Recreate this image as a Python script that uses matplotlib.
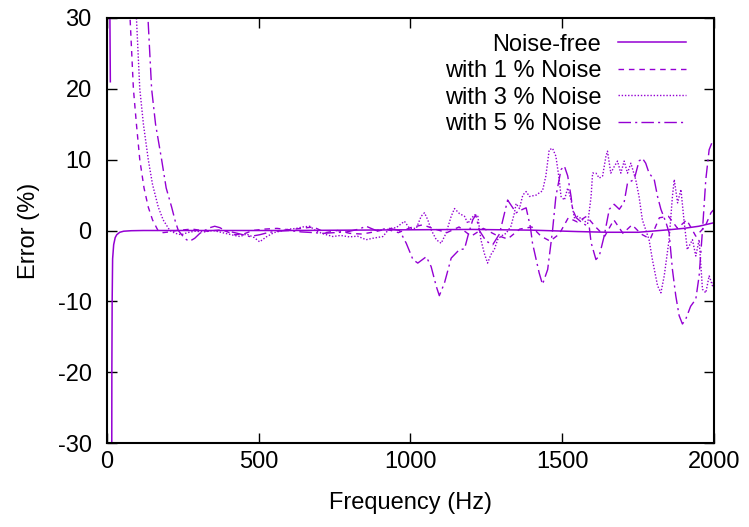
import numpy as np
import matplotlib
matplotlib.use('Agg')
from matplotlib import pyplot as plt

plt.rcParams['font.family'] = ['Liberation Sans', 'DejaVu Sans']
plt.rcParams['axes.unicode_minus'] = False

# Noise-free (NaN marks the jump at the pole near 0 Hz)
f_clean = [8, 11, 12, 15.5, 16, 17, 18.5, 22, 27, 32, 42, 55, 80, 120, 200, 400, 600, 800,
           1000, 1200, 1400, 1550, 1650, 1750, 1850, 1900, 1950, 2000]
e_clean = [40, 21, np.nan, -40, -20, -10, -4, -2, -1, -0.6, -0.25, -0.1, -0.03, 0, 0, 0, 0, 0.05,
           0.1, 0.15, 0.05, -0.15, -0.25, -0.25, 0.1, 0.3, 0.6, 1.1]

# with 1 % noise
f_n1 = [60, 76, 87, 97, 108, 122, 136, 150, 168, 185, 205, 230, 280, 330, 380, 420, 450, 480,
        520, 560, 600, 640, 680, 720, 760, 800, 840, 880, 920, 960, 1000, 1040, 1080, 1120,
        1160, 1200, 1240, 1280, 1320, 1360, 1400, 1430, 1460, 1490, 1520, 1550, 1580, 1610,
        1640, 1670, 1700, 1730, 1760, 1790, 1820, 1850, 1880, 1910, 1940, 1970, 1990, 2000]
e_n1 = [45, 30, 20, 15, 10, 6, 3.3, 1.5, 0, -0.3, -0.2, 0, 0.2, -0.1, 0.1, -0.6, -0.5, 0,
        0.2, 0.3, 0.1, 0.3, 0.5, -0.3, 0.0, -0.4, -0.5, -0.2, 0.2, -0.3, 0.4, 0.8, 0.2, -0.3,
        0.5, -0.8, 0.3, -0.6, -1.2, 0.2, 0.5, -0.8, -1.5, -0.5, 1.8, 1.2, 2.0, 0.5,
        -0.8, 1.5, -0.4, 0.8, -0.5, -1.2, 1.8, 2.0, 0.3, 1.5, -0.8, 0.5, 2.5, 3.0]

# with 3 % noise
f_n3 = [80, 97, 108, 120, 136, 150, 169, 185, 207, 225, 245, 265, 290, 320, 350, 390, 420, 438,
        460, 485, 503, 525, 550, 580, 602, 624, 645, 668, 690, 715, 744, 770, 799, 825, 854,
        875, 909, 931, 953, 980, 997, 1019, 1035, 1046, 1057, 1068, 1085, 1101, 1117, 1134,
        1145, 1161, 1178, 1189, 1200, 1211, 1222, 1232, 1243, 1254, 1265, 1276, 1287, 1298,
        1315, 1331, 1342, 1348, 1359, 1370, 1381, 1392, 1414, 1424, 1435, 1446, 1457, 1468,
        1479, 1490, 1496, 1507, 1518, 1529, 1540, 1551, 1568, 1584, 1595, 1600, 1611, 1622,
        1633, 1644, 1649, 1660, 1671, 1682, 1693, 1704, 1715, 1726, 1742, 1753, 1764, 1775,
        1786, 1797, 1814, 1825, 1836, 1852, 1863, 1869, 1880, 1891, 1901, 1912, 1929, 1940,
        1951, 1962, 1973, 1984, 1995, 2000]
e_n3 = [45, 30, 20, 15, 10, 6.5, 3.3, 1.5, 0, -0.4, -0.6, -0.3, -0.1, -0.2, 0, -0.4, -0.7, -0.85,
        -0.5, -1.0, -1.6, -0.9, -0.3, 0, 0.2, 0.3, 0.5, 0.6, -0.1, -0.5, -0.85, -0.7, -0.9, -0.8, -1.3,
        -1.1, -0.85, 0.3, 0.4, 1.3, 0.3, 0.3, 2.0, 2.5, 1.5, 0.1, -1.3, -1.8, -0.4, 2.0,
        3.1, 2.4, 2.0, 1.0, 1.7, 2.2, 2.0, -1.3, -3.2, -4.6, -3.4, -2.7, -1.3, -0.8,
        -0.4, 0.6, 2.4, 3.8, 3.1, 5.0, 5.5, 4.8, 5.0, 5.3, 5.6, 7.7, 11.4, 11.6,
        10.5, 7.2, 4.8, 4.3, 6.0, 4.3, 1.8, 2.0, 1.5, 1.0, 4.8, 8.1, 8.1, 7.4,
        7.7, 10.5, 11.2, 8.1, 9.0, 9.8, 8.1, 9.8, 8.1, 9.5, 7.2, 4.8, 1.5, 0.1,
        -1.3, -4.1, -7.8, -8.8, -6.4, -1.3, 4.8, 7.2, 3.9, 5.8, 1.5, -2.7, -1.3, -3.6,
        -1.3, -8.3, -8.8, -6.4, -7.8, -7.0]

# with 5 % noise
f_n5 = [120, 135, 147, 160, 180, 195, 213, 225, 235, 251, 262, 273, 289, 306, 322, 339, 355, 372,
        388, 410, 430, 448, 470, 503, 530, 560, 600, 640, 680, 712, 750, 790, 830, 854, 870,
        887, 910, 930, 964, 986, 1008, 1024, 1052, 1068, 1085, 1095, 1112, 1134, 1161, 1178,
        1189, 1205, 1215, 1227, 1249, 1271, 1293, 1310, 1320, 1348, 1370, 1381, 1395, 1402,
        1424, 1435, 1452, 1468, 1479, 1496, 1507, 1518, 1529, 1534, 1546, 1568, 1589, 1595,
        1611, 1622, 1638, 1655, 1671, 1688, 1704, 1715, 1737, 1753, 1764, 1775, 1786, 1803,
        1814, 1825, 1842, 1852, 1863, 1874, 1885, 1896, 1907, 1923, 1940, 1951, 1962, 1973,
        1984, 1995, 2000]
e_n5 = [45, 30, 20, 15, 10, 6, 3.3, 1.3, 0, -0.85, -1.3, -1.5, -1.1, -0.4, 0, 0.4, 0.6, 0.4,
        0, -0.2, -0.4, -0.6, -0.85, -0.6, -0.3, -0.1, 0, -0.2, -0.3, -0.4, -0.3, -0.2, 0.2, 0.6, 0.3,
        0, 0.2, 0.3, 0, -1.8, -4.1, -4.6, -3.7, -5.1, -7.9, -9.2, -7.4, -3.9, -2.7, -2.6,
        -0.8, 1.5, 2.2, 0.0, -1.5, -2.0, -0.5, 2.5, 4.3, 2.5, 3.0, 3.2, 0.5, -1.8,
        -6.0, -7.6, -5.5, 0, 4.8, 8.6, 9.1, 7.7, 4.8, 3.0, 1.8, 1.0, 0.5, -1.7,
        -4.1, -3.6, -0.8, 3.0, 3.7, 3.0, 4.0, 6.7, 7.2, 9.8, 10.2, 9.5, 8.1, 7.2,
        4.8, 3.0, 1.1, -0.3, -5.5, -9.2, -12.0, -13.2, -12.5, -10.7, -9.7, -6.4, 0, 7.2,
        11.4, 12.6, 12.8]

labels = ['Noise-free', 'with 1 % Noise', 'with 3 % Noise', 'with 5 % Noise']
color = '#9400D3'

fig = plt.figure(figsize=(7.49, 5.27), dpi=100)
ax = fig.add_axes([107/749, 1 - 443/527, 607/749, 425/527])

ax.plot(f_clean, e_clean, color=color, lw=1.1, linestyle='-', label=labels[0])
ax.plot(f_n1, e_n1, color=color, lw=1.0, linestyle=(0, (4, 3.5)), label=labels[1])
ax.plot(f_n3, e_n3, color=color, lw=1.0, linestyle=(0, (1, 1.3)), label=labels[2])
ax.plot(f_n5, e_n5, color=color, lw=1.0, linestyle=(0, (9, 3, 1.5, 3)), label=labels[3])

ax.set_xlim(0, 2000)
ax.set_ylim(-30, 30)
ax.set_xticks([0, 500, 1000, 1500, 2000])
ax.set_yticks([-30, -20, -10, 0, 10, 20, 30])
ax.tick_params(direction='in', length=7, width=1, top=True, right=True, labelsize=17)
ax.tick_params(axis='x', pad=6)
ax.tick_params(axis='y', pad=11)
for sp in ax.spines.values():
	sp.set_linewidth(1.5)

ax.set_xlabel('Frequency (Hz)', fontsize=17)
ax.set_ylabel('Error (%)', fontsize=17)
ax.xaxis.set_label_coords(0.5, -0.115)
ax.yaxis.set_label_coords(-0.11, 0.5)

leg = ax.legend(loc='upper right', bbox_to_anchor=(0.954, 0.963), frameon=False,
	fontsize=17, markerfirst=False, handlelength=2.9, handletextpad=0.7,
	labelspacing=0.19, borderpad=0, borderaxespad=0)

fig.savefig('out.png', dpi=100)
